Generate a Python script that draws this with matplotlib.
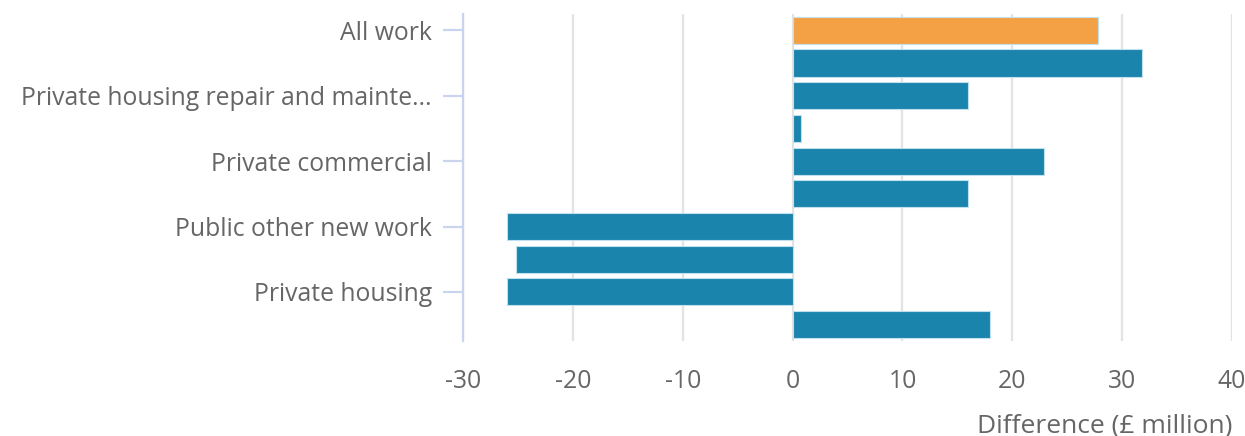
import numpy as np
from matplotlib import pyplot as plt

plt.rcParams['font.family'] = ['Open Sans', 'DejaVu Sans']

categories = ['All work', 'Non-housing repair and maintenance',
              'Private housing repair and maintenance', 'Private industrial',
              'Private commercial', 'Infrastructure', 'Public other new work',
              'Public housing', 'Private housing', 'Public non-housing']
values = [27.8, 31.8, 16.0, 0.8, 22.9, 16.0, -26.0, -25.2, -26.0, 18.0]
x_ticks = [-30, -20, -10, 0, 10, 20, 30, 40]

def short(name, n=33):
	return name if len(name) <= n else name[:n] + '...'

fig = plt.figure(figsize=(12.45, 4.36), dpi=100)
ax = fig.add_axes([0.3719, 0.218, 0.6177, 0.750])

pos = np.arange(len(categories))
colors = ['#F4A045'] + ['#1B84AC'] * (len(categories) - 1)
ax.barh(pos, values, height=0.83, color=colors, edgecolor='#BFE0EE', linewidth=0.8, zorder=3)

ax.set_ylim(len(categories) - 0.5, -0.5)
ax.set_xlim(-30, 40)
ax.set_xticks(x_ticks)
ax.set_xticklabels([str(t) for t in x_ticks])
ax.set_yticks(pos[::2])
ax.set_yticklabels([short(c) for c in categories[::2]])

ax.grid(axis='x', color='#E3E3E3', linewidth=1.6, zorder=0)
for s in ['top', 'right', 'bottom']:
	ax.spines[s].set_visible(False)
ax.spines['left'].set_color('#C9D5EE')
ax.spines['left'].set_linewidth(1.6)
ax.spines['left'].set_zorder(4)
ax.tick_params(axis='y', length=14.4, width=1.6, color='#C9D5EE', pad=8, labelsize=17.8, labelcolor='#666666')
ax.tick_params(axis='x', length=0, pad=20, labelsize=17.8, labelcolor='#666666')

ax.set_xlabel('Difference (£ million)', fontsize=19, color='#666666', loc='right', labelpad=14)

fig.savefig('out.png', dpi=100)
